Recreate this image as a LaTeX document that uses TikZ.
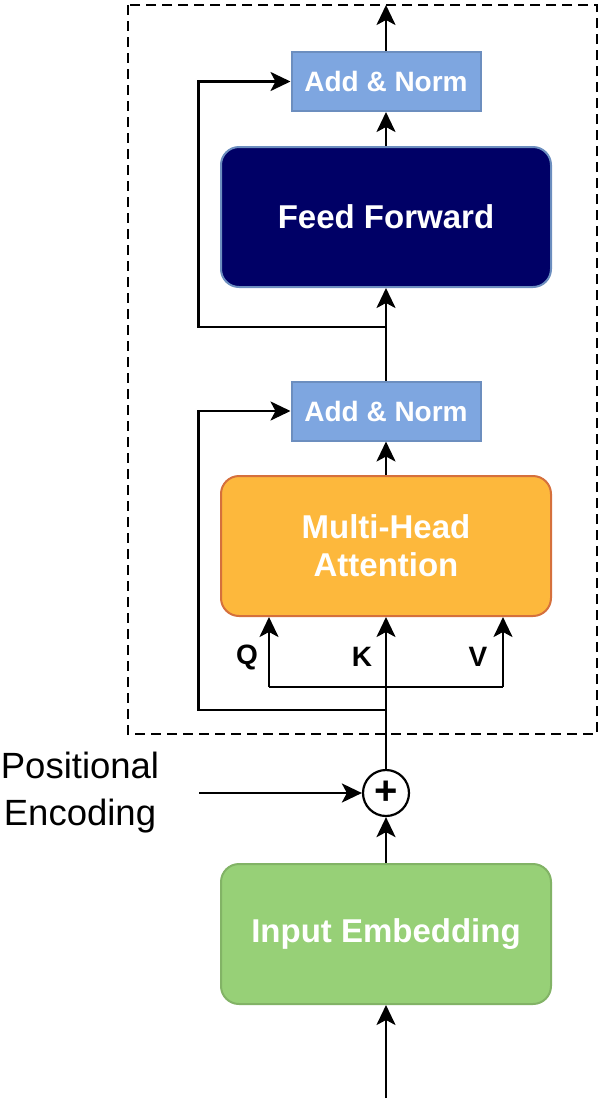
\documentclass[tikz,border=0pt]{standalone}
\usepackage{fontspec}
\setmainfont{Liberation Sans}
\usetikzlibrary{arrows.meta,positioning}

\definecolor{normfill}{HTML}{7EA6E0}
\definecolor{normline}{HTML}{6C8EBF}
\definecolor{fffill}{HTML}{000066}
\definecolor{attfill}{HTML}{FDB83C}
\definecolor{attline}{HTML}{D5703C}
\definecolor{embfill}{HTML}{97D077}
\definecolor{embline}{HTML}{82B366}

\tikzset{
    addnorm/.style={draw=normline, fill=normfill, line width=2pt, minimum width=189pt, minimum height=59pt,
        text=white, font=\fontsize{28}{32}\selectfont\bfseries, inner sep=0pt},
    block/.style={rounded corners=18pt, line width=2pt, minimum width=330pt, minimum height=140pt,
        text=white, font=\fontsize{33}{38}\selectfont\bfseries, align=center, inner sep=0pt},
    qkv/.style={font=\fontsize{28}{30}\selectfont\bfseries, inner sep=0pt}
}

\begin{document}
\begin{tikzpicture}[x=1pt, y=-1pt, line width=2.7pt,
        >={Stealth[length=20pt, width=19pt, inset=5pt]}]
    \useasboundingbox (0,0) rectangle (600,1104);

    % encoder layer frame
    \draw[line width=2.2pt, dash pattern=on 10pt off 6pt] (128,5) rectangle (597,734);

    \node[addnorm] (norm2) at (386,81.5) {Add \& Norm};
    \node[block, draw=normline, fill=fffill] (ff) at (386,217) {Feed Forward};
    \node[addnorm] (norm1) at (386,411) {Add \& Norm};
    \node[block, draw=attline, fill=attfill] (mha) at (386,546) {Multi-Head\\Attention};
    \node[circle, draw, line width=2.2pt, minimum size=46pt, inner sep=0pt,
        font=\fontsize{40}{40}\selectfont\bfseries] (plus) at (386,793) {+};
    \node[block, draw=embline, fill=embfill] (embed) at (386,934) {Input Embedding};

    \node[align=center, font=\fontsize{36.5}{47}\selectfont, inner sep=0pt] (posenc) at (80,793) {Positional\\Encoding};

    \coordinate (in) at (386,1098);
    \coordinate (out) at (386,5);
    \coordinate (pe) at (199,793);
    \coordinate (skipx) at (198.5,0);
    \coordinate (split1) at (386,710);
    \coordinate (split3) at (386,327);
    \coordinate (qk) at (269,687);
    \coordinate (vk) at (503,687);

    % main path
    \draw[->] (in) -- (embed);
    \draw[->] (embed) -- (plus);
    \draw[->] (pe) -- (plus);
    \draw[->] (plus) -- (mha);
    \draw[->] (mha) -- (norm1);
    \draw[->] (norm1) -- (ff);
    \draw[->] (ff) -- (norm2);
    \draw[->] (norm2) -- (out);

    % residual connections
    \draw[->] (split1) -- (split1 -| skipx) |- (norm1.west);
    \draw[->] (split3) -- (split3 -| skipx) |- (norm2.west);

    % queries and values
    \draw (qk) -- (vk);
    \foreach \c in {qk,vk}
        \draw[->] (\c) -- (\c |- mha.south);

    \foreach \l/\x in {Q/247,K/362,V/478}
        \node[qkv] (lab\l) at (\x,657) {\l};
\end{tikzpicture}
\end{document}
